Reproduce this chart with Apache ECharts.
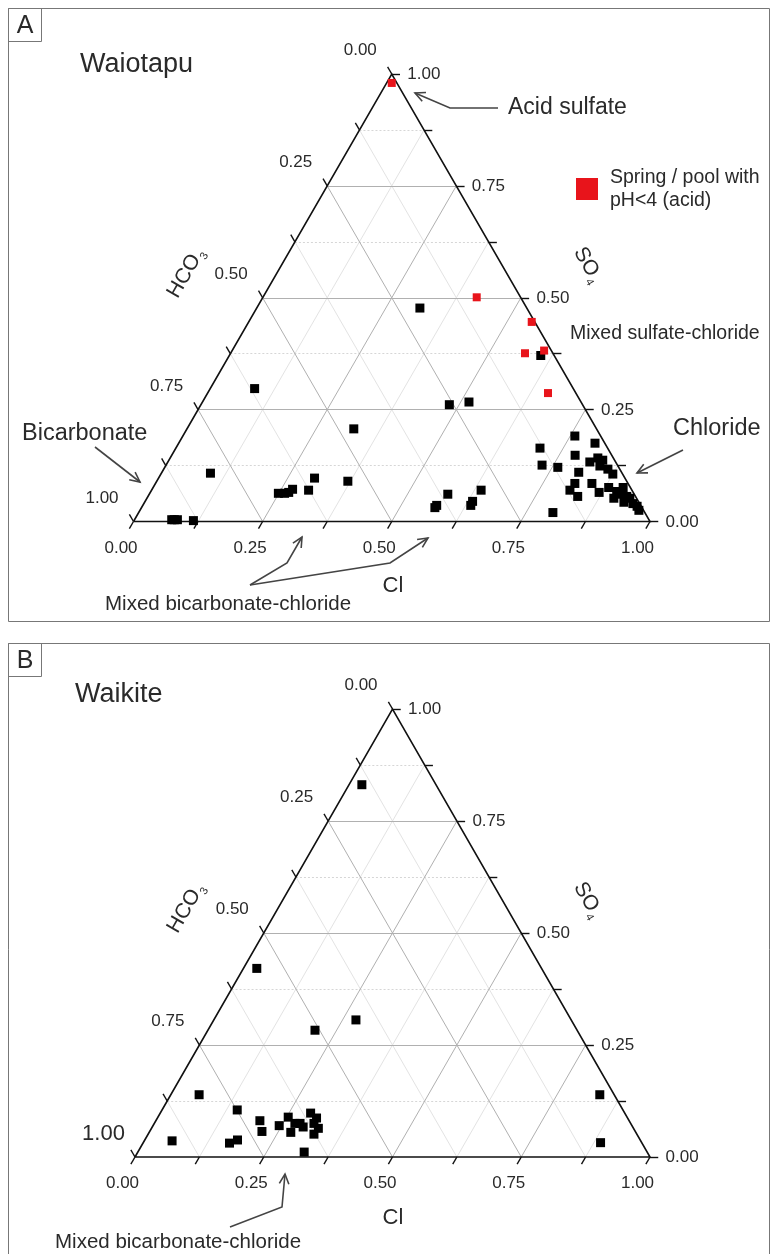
<!DOCTYPE html>
<html>
<head>
<meta charset="utf-8">
<script src="https://cdn.jsdelivr.net/npm/echarts@6.0.0/dist/echarts.min.js"></script>
<style>html,body{margin:0;padding:0;background:#fff}#c{width:776px;height:1254px}</style>
</head>
<body>
<div id="c"></div>
<script>
// ---------- DATA (ternary triples: [HCO3, SO4, Cl]) ----------
const tickValues = [0, 0.25, 0.5, 0.75, 1];
const tickLabels = ['0.00', '0.25', '0.50', '0.75', '1.00'];
const gridSteps = [0.125, 0.25, 0.375, 0.5, 0.625, 0.75, 0.875];
const tickSteps = [0, 0.125, 0.25, 0.375, 0.5, 0.625, 0.75, 0.875, 1];

const waiotapuAcid = [
  [0.010, 0.980, 0.010], [0.085, 0.501, 0.414], [0.006, 0.446, 0.548],
  [0.054, 0.376, 0.570], [0.014, 0.382, 0.604], [0.054, 0.287, 0.659]
];
const waiotapuOther = [
  [0.207, 0.477, 0.316], [0.026, 0.371, 0.603], [0.258, 0.261, 0.481], [0.217, 0.267, 0.516],
  [0.617, 0.297, 0.086], [0.470, 0.207, 0.323], [0.797, 0.108, 0.095],
  [0.924, 0.004, 0.072], [0.919, 0.004, 0.077], [0.913, 0.004, 0.083], [0.883, 0.002, 0.115],
  [0.688, 0.063, 0.249], [0.676, 0.063, 0.261], [0.667, 0.065, 0.268], [0.656, 0.072, 0.272],
  [0.626, 0.070, 0.304], [0.601, 0.097, 0.302], [0.540, 0.090, 0.370],
  [0.401, 0.031, 0.568], [0.395, 0.036, 0.569], [0.361, 0.061, 0.578],
  [0.329, 0.036, 0.635], [0.321, 0.045, 0.634], [0.292, 0.070, 0.638],
  [0.050, 0.191, 0.759], [0.019, 0.175, 0.806], [0.131, 0.164, 0.705], [0.071, 0.148, 0.781],
  [0.146, 0.126, 0.728], [0.118, 0.121, 0.761], [0.050, 0.133, 0.817], [0.030, 0.142, 0.828],
  [0.023, 0.137, 0.840], [0.035, 0.124, 0.841], [0.023, 0.117, 0.860], [0.019, 0.106, 0.875],
  [0.083, 0.110, 0.807], [0.103, 0.085, 0.812], [0.070, 0.085, 0.845], [0.042, 0.076, 0.882],
  [0.120, 0.070, 0.810], [0.112, 0.056, 0.832], [0.066, 0.065, 0.869], [0.044, 0.052, 0.904],
  [0.014, 0.076, 0.910], [0.024, 0.061, 0.915], [0.017, 0.056, 0.927], [0.029, 0.043, 0.928],
  [0.013, 0.052, 0.935], [0.008, 0.034, 0.958], [0.009, 0.025, 0.966], [0.178, 0.020, 0.802],
  [0.013, 0.040, 0.947], [0.031, 0.067, 0.902]
];
const waikitePoints = [
  [0.144, 0.831, 0.025], [0.553, 0.421, 0.026], [0.509, 0.283, 0.208], [0.418, 0.306, 0.276],
  [0.806, 0.139, 0.055], [0.910, 0.036, 0.054], [0.749, 0.105, 0.146], [0.801, 0.031, 0.168],
  [0.782, 0.038, 0.180], [0.717, 0.081, 0.202], [0.725, 0.057, 0.218], [0.685, 0.070, 0.245],
  [0.658, 0.089, 0.253], [0.670, 0.055, 0.275], [0.652, 0.075, 0.273], [0.642, 0.075, 0.283],
  [0.640, 0.067, 0.293], [0.610, 0.098, 0.292], [0.615, 0.075, 0.310], [0.604, 0.087, 0.309],
  [0.612, 0.064, 0.324], [0.627, 0.051, 0.322], [0.666, 0.011, 0.323],
  [0.028, 0.139, 0.833], [0.080, 0.032, 0.888]
];
const acidName = 'Spring / pool with\npH<4 (acid)';

// ---------- helpers ----------
const FONT = '"Liberation Sans", Arial, Helvetica, sans-serif';
const INK = '#2a2a2a';
// ternary [HCO3, SO4, Cl] -> cartesian [x, y] in triangle units
function tern(p) { return [p[2] + p[1] / 2, p[1]]; }
const T = 0.016; // tick length in ternary units

function panelSeries(gi, black, red) {
  const ax = { xAxisIndex: gi, yAxisIndex: gi };
  const minorH = [], minorS = [], major = [];
  gridSteps.forEach(k => {
    const isMajor = Math.abs(k * 4 - Math.round(k * 4)) < 1e-9;
    const h = { coords: [tern([1 - k, k, 0]), tern([0, k, 1 - k])] };
    const c = { coords: [tern([1 - k, 0, k]), tern([0, 1 - k, k])] };
    const b = { coords: [tern([k, 0, 1 - k]), tern([k, 1 - k, 0])] };
    if (isMajor) major.push(h, c, b); else { minorH.push(h); minorS.push(c, b); }
  });
  const ticks = [];
  tickSteps.forEach(k => {
    ticks.push({ coords: [tern([1 - k, 0, k]), tern([1 - k + T, -T, k])] });     // Cl (bottom)
    ticks.push({ coords: [tern([0, k, 1 - k]), tern([-T, k, 1 - k + T])] });     // SO4 (right)
    ticks.push({ coords: [tern([k, 1 - k, 0]), tern([k, 1 - k + T, -T])] });     // HCO3 (left)
  });
  const outline = [{ coords: [tern([1, 0, 0]), tern([0, 0, 1]), tern([0, 1, 0]), tern([1, 0, 0])] }];
  const lineS = (data, color, width, type, z) => Object.assign({
    type: 'lines', coordinateSystem: 'cartesian2d', silent: true, clip: false, z: z,
    data: data, lineStyle: { color: color, width: width, type: type, opacity: 1 }
  }, ax);
  const labelS = (data, pos, align) => Object.assign({
    type: 'scatter', silent: true, symbolSize: 1, z: 5,
    itemStyle: { color: 'rgba(0,0,0,0)', opacity: 1 },
    label: { show: true, formatter: '{b}', position: pos, align: align, verticalAlign: 'middle',
      color: INK, fontSize: 17, fontFamily: FONT, opacity: 1 },
    data: data
  }, ax);
  const bottomL = tickValues.map((k, i) => ({ name: tickLabels[i], value: tern([1 - k, 0, k]) }));
  const rightL = tickValues.map((k, i) => ({ name: tickLabels[i], value: tern([0, k, 1 - k]) }));
  const leftL = tickValues.map((k, i) => {
    const d = { name: tickLabels[i], value: tern([k, 1 - k, 0]) };
    if (gi === 1 && k === 1) d.label = { fontSize: 22 };
    return d;
  });
  const S = [
    lineS(minorS, '#e3e3e3', 1, 'solid', 1),
    lineS(minorH, '#d6d6d6', 1, [2, 2], 1),
    lineS(major, '#b0b0b0', 1, 'solid', 2),
    Object.assign(lineS(outline, '#111', 1.6, 'solid', 3), { polyline: true }),
    lineS(ticks, '#111', 1.4, 'solid', 3),
    labelS(bottomL, [-12, 27], 'center'),
    labelS(rightL, [16, 1], 'left'),
    labelS(leftL, [-31, -23], 'center'),
    Object.assign({
      type: 'scatter', name: 'samples' + gi, symbol: 'rect', symbolSize: 9, z: 6,
      itemStyle: { color: '#000', opacity: 1 }, data: black.map(tern)
    }, ax)
  ];
  if (red) S.push(Object.assign({
    type: 'scatter', name: acidName, symbol: 'rect', symbolSize: 8, z: 7,
    itemStyle: { color: '#e8141b', opacity: 1 }, data: red.map(tern)
  }, ax));
  return S;
}

function arrow(pts) {
  const n = pts.length, x2 = pts[n - 1][0], y2 = pts[n - 1][1], x1 = pts[n - 2][0], y1 = pts[n - 2][1];
  const a = Math.atan2(y2 - y1, x2 - x1), L = 11, w = 0.45;
  const h1 = [x2 - L * Math.cos(a - w), y2 - L * Math.sin(a - w)];
  const h2 = [x2 - L * Math.cos(a + w), y2 - L * Math.sin(a + w)];
  const st = { stroke: '#444', lineWidth: 1.6, fill: null };
  return [
    { type: 'polyline', silent: true, shape: { points: pts }, style: st },
    { type: 'polyline', silent: true, shape: { points: [h1, [x2, y2], h2] }, style: st }
  ];
}
function txt(x, y, text, size, opts) {
  return Object.assign({
    type: 'text', x: x, y: y, silent: true,
    style: Object.assign({ text: text, fill: INK, font: size + 'px ' + FONT, align: 'left', verticalAlign: 'middle' }, opts || {})
  });
}
function rotTitle(x, y, main, sub, rot) {
  return {
    type: 'text', x: x, y: y, rotation: rot, silent: true,
    style: {
      text: '{m|' + main + '}{s|' + sub + '}', align: 'center', verticalAlign: 'middle', fill: INK,
      rich: {
        m: { fontSize: 21, fontFamily: FONT, fill: INK, color: INK, lineHeight: 26, verticalAlign: 'middle' },
        s: { fontSize: 11, fontFamily: FONT, fill: INK, color: INK, lineHeight: 11, verticalAlign: 'bottom', padding: [0, 0, 0, 1] }
      }
    }
  };
}

const graphics = [
  // panel frames
  { type: 'rect', silent: true, shape: { x: 8.5, y: 8.5, width: 761, height: 613 }, style: { stroke: '#777', fill: null, lineWidth: 1 } },
  { type: 'rect', silent: true, shape: { x: 8.5, y: 8.5, width: 33, height: 33 }, style: { stroke: '#777', fill: null, lineWidth: 1 } },
  { type: 'rect', silent: true, shape: { x: 8.5, y: 643.5, width: 761, height: 640 }, style: { stroke: '#777', fill: null, lineWidth: 1 } },
  { type: 'rect', silent: true, shape: { x: 8.5, y: 643.5, width: 33, height: 33 }, style: { stroke: '#777', fill: null, lineWidth: 1 } },
  txt(25, 26, 'A', 25, { align: 'center' }),
  txt(25, 661, 'B', 25, { align: 'center' }),
  txt(80, 65, 'Waiotapu', 27),
  txt(75, 695, 'Waikite', 27),
  // axis titles
  txt(393, 586, 'Cl', 22, { align: 'center' }),
  txt(393, 1218, 'Cl', 22, { align: 'center' }),
  rotTitle(186, 273, 'HCO', '3', Math.PI / 3),
  rotTitle(588, 265, 'SO', '4', -Math.PI / 3),
  rotTitle(186, 908, 'HCO', '3', Math.PI / 3),
  rotTitle(588, 900, 'SO', '4', -Math.PI / 3),
  // annotations
  txt(508, 108, 'Acid sulfate', 23),
  txt(570, 334, 'Mixed sulfate-chloride', 19.5),
  txt(673, 429, 'Chloride', 23.5),
  txt(22, 434, 'Bicarbonate', 23.5),
  txt(105, 604, 'Mixed bicarbonate-chloride', 20.5),
  txt(55, 1242, 'Mixed bicarbonate-chloride', 20.5)
].concat(
  arrow([[498, 108], [450, 108], [415, 93]]),
  arrow([[95, 447], [140, 482]]),
  arrow([[683, 450], [637, 473]]),
  arrow([[250, 585], [287, 563], [302, 537]]),
  arrow([[250, 585], [390, 563], [428, 538]]),
  arrow([[230, 1227], [282, 1207], [285, 1174]])
);

const chart = echarts.init(document.getElementById('c'), null, { renderer: 'canvas' });
chart.setOption({
  animation: false,
  backgroundColor: '#fff',
  textStyle: { fontFamily: FONT },
  grid: [
    { left: 133.5, top: 74, width: 516.5, height: 447.5 },
    { left: 135, top: 709, width: 515, height: 448 }
  ],
  xAxis: [
    { type: 'value', gridIndex: 0, min: 0, max: 1, show: false },
    { type: 'value', gridIndex: 1, min: 0, max: 1, show: false }
  ],
  yAxis: [
    { type: 'value', gridIndex: 0, min: 0, max: 1, show: false },
    { type: 'value', gridIndex: 1, min: 0, max: 1, show: false }
  ],
  legend: {
    data: [{ name: acidName, icon: 'rect', itemStyle: { opacity: 1 } }], left: 571, top: 161, orient: 'vertical',
    itemWidth: 22, itemHeight: 22, selectedMode: false,
    textStyle: { fontSize: 19.5, lineHeight: 23, color: INK, fontFamily: FONT, padding: [0, 0, 0, 7] }
  },
  series: panelSeries(0, waiotapuOther, waiotapuAcid).concat(panelSeries(1, waikitePoints, null)),
  graphic: { elements: graphics }
});
</script>
</body>
</html>
